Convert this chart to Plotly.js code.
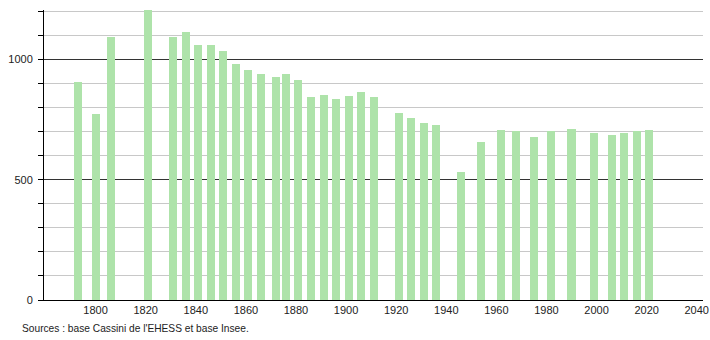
<!DOCTYPE html>
<html>
<head>
<meta charset="utf-8">
<script src="https://cdn.plot.ly/plotly-3.0.1.min.js"></script>
<style>html,body{margin:0;padding:0;background:#fff;}#chart{width:710px;height:340px;}</style>
</head>
<body>
<div id="chart"></div>
<script>
const years = [1793, 1800, 1806, 1821, 1831, 1836, 1841, 1846, 1851, 1856, 1861, 1866, 1872, 1876, 1881, 1886, 1891, 1896, 1901, 1906, 1911, 1921, 1926, 1931, 1936, 1946, 1954, 1962, 1968, 1975, 1982, 1990, 1999, 2006, 2011, 2016, 2021];
const population = [905, 775, 1095, 1206, 1095, 1114, 1062, 1062, 1034, 982, 958, 940, 927, 940, 913, 845, 851, 834, 847, 863, 845, 779, 757, 736, 727, 531, 657, 706, 702, 679, 702, 710, 696, 687, 696, 702, 706];
const xTickVals = [1800, 1820, 1840, 1860, 1880, 1900, 1920, 1940, 1960, 1980, 2000, 2020, 2040];
const yTickVals = [0, 500, 1000];
const sourceText = "Sources : base Cassini de l'EHESS et base Insee.";

const trace = {
  type: 'bar',
  x: years,
  y: population,
  width: years.map(() => 3.2),
  marker: {color: '#aee3aa', line: {width: 0}},
  hoverinfo: 'x+y'
};

const layout = {
  width: 710, height: 340,
  margin: {l: 44, r: 7, t: 10, b: 40, pad: 0},
  paper_bgcolor: '#fff', plot_bgcolor: '#fff',
  font: {family: 'Liberation Sans, Arial, sans-serif', size: 11, color: '#222'},
  showlegend: false,
  bargap: 0,
  xaxis: {
    range: [1779.4, 2042.5],
    tickvals: xTickVals,
    ticktext: xTickVals.map(String),
    showgrid: false, zeroline: false,
    showline: true, linecolor: '#000', linewidth: 1,
    ticks: '', ticklen: 0,
    tickfont: {size: 11, color: '#222'}
  },
  yaxis: {
    range: [0, 1206],
    tickvals: yTickVals,
    ticktext: yTickVals.map(String),
    showgrid: true, gridcolor: '#333', gridwidth: 1,
    zeroline: false,
    showline: true, linecolor: '#000', linewidth: 1,
    ticks: 'outside', ticklen: 5, tickcolor: '#000',
    ticklabelstandoff: 3,
    tickfont: {size: 11, color: '#222'},
    minor: {dtick: 100, tick0: 0, showgrid: true, gridcolor: '#c8c8c8', gridwidth: 1, ticks: 'outside', ticklen: 5, tickcolor: '#000'}
  },
  annotations: [{
    text: sourceText,
    xref: 'paper', yref: 'paper',
    x: -0.0364, y: -0.0966,
    xanchor: 'left', yanchor: 'middle',
    showarrow: false,
    font: {size: 10.2, color: '#222'}
  }]
};

Plotly.newPlot('chart', [trace], layout, {staticPlot: true, displayModeBar: false});
</script>
</body>
</html>
